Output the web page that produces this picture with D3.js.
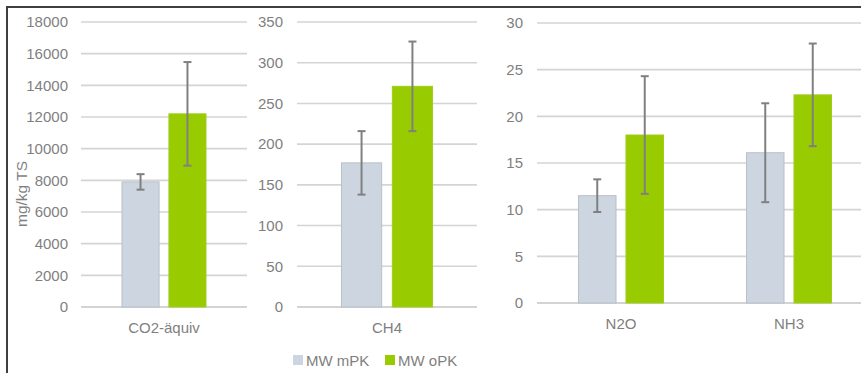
<!DOCTYPE html>
<html>
<head>
<meta charset="utf-8">
<script src="https://cdn.jsdelivr.net/npm/d3@7"></script>
<style>
  html, body { margin: 0; padding: 0; background: #fff; }
  svg text { font-family: "Liberation Sans", Arial, sans-serif; fill: #7f7f7f; }
</style>
</head>
<body>
<svg id="chart" width="861" height="373"></svg>
<script>
// Emissions per kg dry matter, with and without plant charcoal
const categories = ["CO2-äquiv", "CH4", "N2O", "NH3"];
const seriesNames = ["MW mPK", "MW oPK"];
const mPK = [7900, 177, 11.5, 16.1];
const mPKErr = [490, 39, 1.75, 5.3];
const oPK = [12200, 271, 18.0, 22.3];
const oPKErr = [3270, 55, 6.3, 5.5];
const ticks1 = [0, 2000, 4000, 6000, 8000, 10000, 12000, 14000, 16000, 18000];
const ticks2 = [0, 50, 100, 150, 200, 250, 300, 350];
const ticks3 = [0, 5, 10, 15, 20, 25, 30];
const yTitle = "mg/kg TS";

const colors = ["#cdd6e0", "#99cc00"];
const strokes = ["#b8c0c8", "#a0cc20"];

// Three panels sharing the series, each with its own value scale
const panels = [
  { cats: [0], ticks: ticks1, max: 18000, x: [81, 247], y: [307, 22], labelRight: 68 },
  { cats: [1], ticks: ticks2, max: 350, x: [297, 477], y: [307, 22], labelRight: 283 },
  { cats: [2, 3], ticks: ticks3, max: 30, x: [537, 873], y: [303, 23], labelRight: 523 }
];

const svg = d3.select("#chart");

panels.forEach(p => {
  const g = svg.append("g");
  const y = d3.scaleLinear().domain([0, p.max]).range(p.y);
  const x0 = d3.scaleBand().domain(p.cats.map(i => categories[i])).range(p.x);
  const bw = x0.bandwidth();
  const x1 = d3.scaleBand().domain(seriesNames)
    .range([bw * 0.247, bw * 0.753]).paddingInner(0.21);

  // gridlines
  g.selectAll("line.grid").data(p.ticks).join("line")
    .attr("x1", p.x[0]).attr("x2", Math.min(p.x[1], 861))
    .attr("y1", d => y(d)).attr("y2", d => y(d))
    .attr("stroke", d => d === 0 ? "#c4c4c4" : "#d4d4d4")
    .attr("stroke-width", 1.6);

  // tick labels
  g.selectAll("text.tick").data(p.ticks).join("text")
    .attr("x", p.labelRight).attr("y", d => y(d))
    .attr("dy", "0.35em").attr("text-anchor", "end")
    .attr("font-size", 15)
    .text(d => d);

  // bars and error bars
  p.cats.forEach(ci => {
    const cat = categories[ci];
    const vals = [mPK[ci], oPK[ci]];
    const errs = [mPKErr[ci], oPKErr[ci]];
    seriesNames.forEach((s, si) => {
      const bx = x0(cat) + x1(s);
      const w = x1.bandwidth();
      g.append("rect")
        .attr("x", bx).attr("y", y(vals[si]))
        .attr("width", w).attr("height", y(0) - y(vals[si]))
        .attr("fill", colors[si]).attr("stroke", strokes[si]).attr("stroke-width", 1);
      const cx = bx + w / 2;
      const hi = y(vals[si] + errs[si]), lo = y(vals[si] - errs[si]);
      const eb = g.append("g").attr("stroke", "#808080").attr("stroke-width", 2);
      eb.append("line").attr("x1", cx).attr("x2", cx).attr("y1", hi).attr("y2", lo);
      eb.append("line").attr("x1", cx - 4).attr("x2", cx + 4).attr("y1", hi).attr("y2", hi);
      eb.append("line").attr("x1", cx - 4).attr("x2", cx + 4).attr("y1", lo).attr("y2", lo);
    });
    g.append("text")
      .attr("x", x0(cat) + bw / 2).attr("y", y(0) + 26)
      .attr("text-anchor", "middle").attr("font-size", 15)
      .text(cat);
  });
});

// y-axis title
svg.append("text")
  .attr("transform", "translate(27,194) rotate(-90)")
  .attr("text-anchor", "middle").attr("font-size", 15.5)
  .text(yTitle);

// legend
const legendX = [293, 385];
seriesNames.forEach((s, i) => {
  svg.append("rect").attr("x", legendX[i]).attr("y", 355)
    .attr("width", 10).attr("height", 10).attr("fill", colors[i]);
  svg.append("text").attr("x", legendX[i] + 13).attr("y", 366)
    .attr("font-size", 15).text(s);
});

// frame (top and left edges)
svg.append("path")
  .attr("d", "M7,373 V7 H861")
  .attr("fill", "none").attr("stroke", "#3f3f3f").attr("stroke-width", 2);
</script>
</body>
</html>
